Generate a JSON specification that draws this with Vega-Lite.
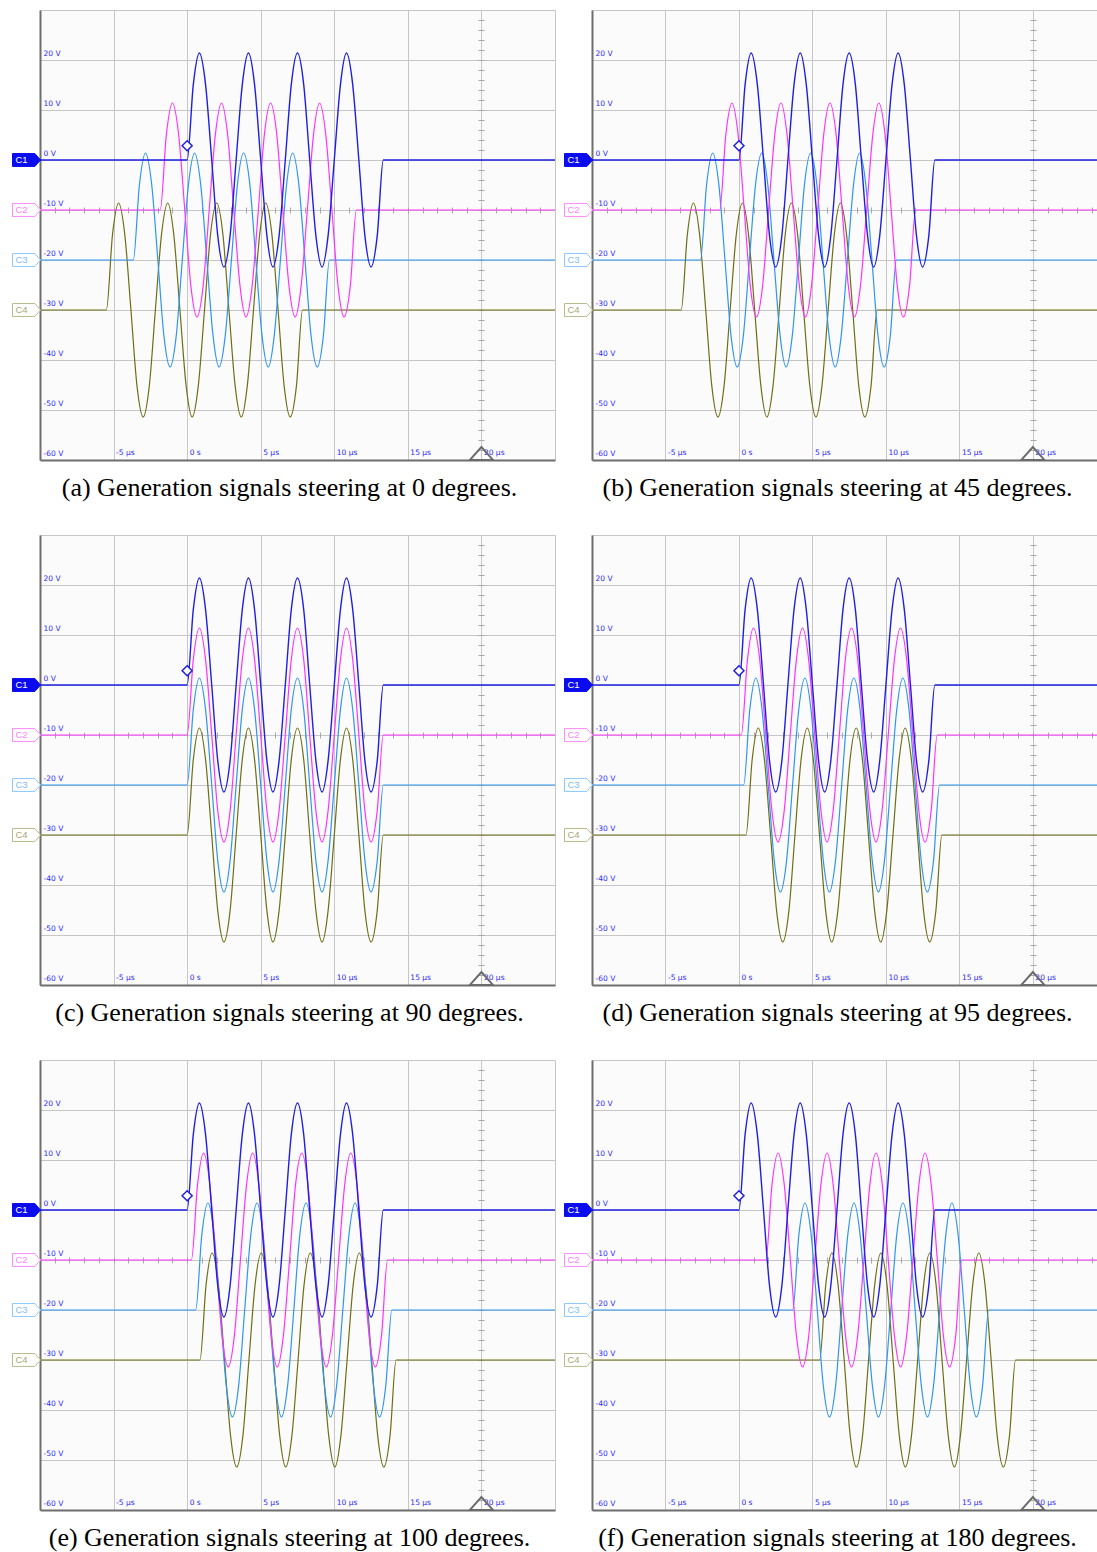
{
"$schema": "https://vega.github.io/schema/vega-lite/v6.json",
"padding": {"left": 10, "top": 9, "right": 0, "bottom": 0},
"background": "white",
"config": {
 "view": {"stroke": "#c6c6c6", "strokeWidth": 1, "fill": "#fbfbfb"},
 "axis": {"domainColor": "#6e6e6e", "domainWidth": 2, "gridColor": "#c6c6c6", "gridWidth": 1, "grid": true, "ticks": false, "tickSize": 0, "labelFont": "DejaVu Sans", "labelFontSize": 7.5, "labelColor": "#2a2aff", "labelFlush": false, "labelOverlap": false, "labelBound": false},
 "axisX": {"labelAlign": "left", "labelBaseline": "bottom", "labelPadding": -4, "labelOffset": 2, "labelExpr": "datum.value == 0 ? '0 s' : datum.value + ' µs'"},
 "axisY": {"labelAlign": "left", "labelBaseline": "bottom", "labelPadding": -3, "labelOffset": -3, "labelExpr": "datum.value + ' V'"},
 "title": {"font": "Liberation Serif", "fontSize": 26, "fontWeight": "normal", "color": "#000000", "orient": "bottom", "anchor": "middle", "offset": 11, "dx": -8}
},
"datasets": {
 "one": [{"k": 1}],
 "ch": [{"c": "C1", "v": 0}, {"c": "C2", "v": -10}, {"c": "C3", "v": -20}, {"c": "C4", "v": -30}],
 "c1": [{"t":-10,"v":0},{"t":0,"v":0},{"t":0.42,"v":15.13},{"t":0.83,"v":21.4},{"t":1.25,"v":15.13},{"t":1.67,"v":0},{"t":2.08,"v":-15.13},{"t":2.5,"v":-21.4},{"t":2.92,"v":-15.13},{"t":3.33,"v":0},{"t":3.75,"v":15.13},{"t":4.17,"v":21.4},{"t":4.58,"v":15.13},{"t":5,"v":0},{"t":5.42,"v":-15.13},{"t":5.83,"v":-21.4},{"t":6.25,"v":-15.13},{"t":6.67,"v":0},{"t":7.08,"v":15.13},{"t":7.5,"v":21.4},{"t":7.92,"v":15.13},{"t":8.33,"v":0},{"t":8.75,"v":-15.13},{"t":9.17,"v":-21.4},{"t":9.58,"v":-15.13},{"t":10,"v":0},{"t":10.42,"v":15.13},{"t":10.83,"v":21.4},{"t":11.25,"v":15.13},{"t":11.67,"v":0},{"t":12.08,"v":-15.13},{"t":12.5,"v":-21.4},{"t":12.92,"v":-15.13},{"t":13.33,"v":0},{"t":25,"v":0}],
 "c2z": [{"t":-10,"v":-10},{"t":0,"v":-10},{"t":0.42,"v":5.13},{"t":0.83,"v":11.4},{"t":1.25,"v":5.13},{"t":1.67,"v":-10},{"t":2.08,"v":-25.13},{"t":2.5,"v":-31.4},{"t":2.92,"v":-25.13},{"t":3.33,"v":-10},{"t":3.75,"v":5.13},{"t":4.17,"v":11.4},{"t":4.58,"v":5.13},{"t":5,"v":-10},{"t":5.42,"v":-25.13},{"t":5.83,"v":-31.4},{"t":6.25,"v":-25.13},{"t":6.67,"v":-10},{"t":7.08,"v":5.13},{"t":7.5,"v":11.4},{"t":7.92,"v":5.13},{"t":8.33,"v":-10},{"t":8.75,"v":-25.13},{"t":9.17,"v":-31.4},{"t":9.58,"v":-25.13},{"t":10,"v":-10},{"t":10.42,"v":5.13},{"t":10.83,"v":11.4},{"t":11.25,"v":5.13},{"t":11.67,"v":-10},{"t":12.08,"v":-25.13},{"t":12.5,"v":-31.4},{"t":12.92,"v":-25.13},{"t":13.33,"v":-10},{"t":25,"v":-10}],
 "c3z": [{"t":-10,"v":-20},{"t":0,"v":-20},{"t":0.42,"v":-4.87},{"t":0.83,"v":1.4},{"t":1.25,"v":-4.87},{"t":1.67,"v":-20},{"t":2.08,"v":-35.13},{"t":2.5,"v":-41.4},{"t":2.92,"v":-35.13},{"t":3.33,"v":-20},{"t":3.75,"v":-4.87},{"t":4.17,"v":1.4},{"t":4.58,"v":-4.87},{"t":5,"v":-20},{"t":5.42,"v":-35.13},{"t":5.83,"v":-41.4},{"t":6.25,"v":-35.13},{"t":6.67,"v":-20},{"t":7.08,"v":-4.87},{"t":7.5,"v":1.4},{"t":7.92,"v":-4.87},{"t":8.33,"v":-20},{"t":8.75,"v":-35.13},{"t":9.17,"v":-41.4},{"t":9.58,"v":-35.13},{"t":10,"v":-20},{"t":10.42,"v":-4.87},{"t":10.83,"v":1.4},{"t":11.25,"v":-4.87},{"t":11.67,"v":-20},{"t":12.08,"v":-35.13},{"t":12.5,"v":-41.4},{"t":12.92,"v":-35.13},{"t":13.33,"v":-20},{"t":25,"v":-20}],
 "c4z": [{"t":-10,"v":-30},{"t":0,"v":-30},{"t":0.42,"v":-14.87},{"t":0.83,"v":-8.6},{"t":1.25,"v":-14.87},{"t":1.67,"v":-30},{"t":2.08,"v":-45.13},{"t":2.5,"v":-51.4},{"t":2.92,"v":-45.13},{"t":3.33,"v":-30},{"t":3.75,"v":-14.87},{"t":4.17,"v":-8.6},{"t":4.58,"v":-14.87},{"t":5,"v":-30},{"t":5.42,"v":-45.13},{"t":5.83,"v":-51.4},{"t":6.25,"v":-45.13},{"t":6.67,"v":-30},{"t":7.08,"v":-14.87},{"t":7.5,"v":-8.6},{"t":7.92,"v":-14.87},{"t":8.33,"v":-30},{"t":8.75,"v":-45.13},{"t":9.17,"v":-51.4},{"t":9.58,"v":-45.13},{"t":10,"v":-30},{"t":10.42,"v":-14.87},{"t":10.83,"v":-8.6},{"t":11.25,"v":-14.87},{"t":11.67,"v":-30},{"t":12.08,"v":-45.13},{"t":12.5,"v":-51.4},{"t":12.92,"v":-45.13},{"t":13.33,"v":-30},{"t":25,"v":-30}],
 "a2": [{"t":-10,"v":-10},{"t":-1.83,"v":-10},{"t":-1.41,"v":5.13},{"t":-1,"v":11.4},{"t":-0.58,"v":5.13},{"t":-0.16,"v":-10},{"t":0.25,"v":-25.13},{"t":0.67,"v":-31.4},{"t":1.09,"v":-25.13},{"t":1.5,"v":-10},{"t":1.92,"v":5.13},{"t":2.34,"v":11.4},{"t":2.75,"v":5.13},{"t":3.17,"v":-10},{"t":3.59,"v":-25.13},{"t":4,"v":-31.4},{"t":4.42,"v":-25.13},{"t":4.84,"v":-10},{"t":5.25,"v":5.13},{"t":5.67,"v":11.4},{"t":6.09,"v":5.13},{"t":6.5,"v":-10},{"t":6.92,"v":-25.13},{"t":7.34,"v":-31.4},{"t":7.75,"v":-25.13},{"t":8.17,"v":-10},{"t":8.59,"v":5.13},{"t":9,"v":11.4},{"t":9.42,"v":5.13},{"t":9.84,"v":-10},{"t":10.25,"v":-25.13},{"t":10.67,"v":-31.4},{"t":11.09,"v":-25.13},{"t":11.5,"v":-10},{"t":25,"v":-10}],
 "a3": [{"t":-10,"v":-20},{"t":-3.66,"v":-20},{"t":-3.24,"v":-4.87},{"t":-2.83,"v":1.4},{"t":-2.41,"v":-4.87},{"t":-1.99,"v":-20},{"t":-1.58,"v":-35.13},{"t":-1.16,"v":-41.4},{"t":-0.74,"v":-35.13},{"t":-0.33,"v":-20},{"t":0.09,"v":-4.87},{"t":0.51,"v":1.4},{"t":0.92,"v":-4.87},{"t":1.34,"v":-20},{"t":1.76,"v":-35.13},{"t":2.17,"v":-41.4},{"t":2.59,"v":-35.13},{"t":3.01,"v":-20},{"t":3.42,"v":-4.87},{"t":3.84,"v":1.4},{"t":4.26,"v":-4.87},{"t":4.67,"v":-20},{"t":5.09,"v":-35.13},{"t":5.51,"v":-41.4},{"t":5.92,"v":-35.13},{"t":6.34,"v":-20},{"t":6.76,"v":-4.87},{"t":7.17,"v":1.4},{"t":7.59,"v":-4.87},{"t":8.01,"v":-20},{"t":8.42,"v":-35.13},{"t":8.84,"v":-41.4},{"t":9.26,"v":-35.13},{"t":9.67,"v":-20},{"t":25,"v":-20}],
 "a4": [{"t":-10,"v":-30},{"t":-5.49,"v":-30},{"t":-5.07,"v":-14.87},{"t":-4.66,"v":-8.6},{"t":-4.24,"v":-14.87},{"t":-3.82,"v":-30},{"t":-3.41,"v":-45.13},{"t":-2.99,"v":-51.4},{"t":-2.57,"v":-45.13},{"t":-2.16,"v":-30},{"t":-1.74,"v":-14.87},{"t":-1.32,"v":-8.6},{"t":-0.91,"v":-14.87},{"t":-0.49,"v":-30},{"t":-0.07,"v":-45.13},{"t":0.34,"v":-51.4},{"t":0.76,"v":-45.13},{"t":1.18,"v":-30},{"t":1.59,"v":-14.87},{"t":2.01,"v":-8.6},{"t":2.43,"v":-14.87},{"t":2.84,"v":-30},{"t":3.26,"v":-45.13},{"t":3.68,"v":-51.4},{"t":4.09,"v":-45.13},{"t":4.51,"v":-30},{"t":4.93,"v":-14.87},{"t":5.34,"v":-8.6},{"t":5.76,"v":-14.87},{"t":6.18,"v":-30},{"t":6.59,"v":-45.13},{"t":7.01,"v":-51.4},{"t":7.43,"v":-45.13},{"t":7.84,"v":-30},{"t":25,"v":-30}],
 "b2": [{"t":-10,"v":-10},{"t":-1.31,"v":-10},{"t":-0.89,"v":5.13},{"t":-0.48,"v":11.4},{"t":-0.06,"v":5.13},{"t":0.36,"v":-10},{"t":0.77,"v":-25.13},{"t":1.19,"v":-31.4},{"t":1.61,"v":-25.13},{"t":2.02,"v":-10},{"t":2.44,"v":5.13},{"t":2.86,"v":11.4},{"t":3.27,"v":5.13},{"t":3.69,"v":-10},{"t":4.11,"v":-25.13},{"t":4.52,"v":-31.4},{"t":4.94,"v":-25.13},{"t":5.36,"v":-10},{"t":5.77,"v":5.13},{"t":6.19,"v":11.4},{"t":6.61,"v":5.13},{"t":7.02,"v":-10},{"t":7.44,"v":-25.13},{"t":7.86,"v":-31.4},{"t":8.27,"v":-25.13},{"t":8.69,"v":-10},{"t":9.11,"v":5.13},{"t":9.52,"v":11.4},{"t":9.94,"v":5.13},{"t":10.36,"v":-10},{"t":10.77,"v":-25.13},{"t":11.19,"v":-31.4},{"t":11.61,"v":-25.13},{"t":12.02,"v":-10},{"t":25,"v":-10}],
 "b3": [{"t":-10,"v":-20},{"t":-2.62,"v":-20},{"t":-2.2,"v":-4.87},{"t":-1.79,"v":1.4},{"t":-1.37,"v":-4.87},{"t":-0.95,"v":-20},{"t":-0.54,"v":-35.13},{"t":-0.12,"v":-41.4},{"t":0.3,"v":-35.13},{"t":0.71,"v":-20},{"t":1.13,"v":-4.87},{"t":1.55,"v":1.4},{"t":1.96,"v":-4.87},{"t":2.38,"v":-20},{"t":2.8,"v":-35.13},{"t":3.21,"v":-41.4},{"t":3.63,"v":-35.13},{"t":4.05,"v":-20},{"t":4.46,"v":-4.87},{"t":4.88,"v":1.4},{"t":5.3,"v":-4.87},{"t":5.71,"v":-20},{"t":6.13,"v":-35.13},{"t":6.55,"v":-41.4},{"t":6.96,"v":-35.13},{"t":7.38,"v":-20},{"t":7.8,"v":-4.87},{"t":8.21,"v":1.4},{"t":8.63,"v":-4.87},{"t":9.05,"v":-20},{"t":9.46,"v":-35.13},{"t":9.88,"v":-41.4},{"t":10.3,"v":-35.13},{"t":10.71,"v":-20},{"t":25,"v":-20}],
 "b4": [{"t":-10,"v":-30},{"t":-3.93,"v":-30},{"t":-3.51,"v":-14.87},{"t":-3.1,"v":-8.6},{"t":-2.68,"v":-14.87},{"t":-2.26,"v":-30},{"t":-1.85,"v":-45.13},{"t":-1.43,"v":-51.4},{"t":-1.01,"v":-45.13},{"t":-0.6,"v":-30},{"t":-0.18,"v":-14.87},{"t":0.24,"v":-8.6},{"t":0.65,"v":-14.87},{"t":1.07,"v":-30},{"t":1.49,"v":-45.13},{"t":1.9,"v":-51.4},{"t":2.32,"v":-45.13},{"t":2.74,"v":-30},{"t":3.15,"v":-14.87},{"t":3.57,"v":-8.6},{"t":3.99,"v":-14.87},{"t":4.4,"v":-30},{"t":4.82,"v":-45.13},{"t":5.24,"v":-51.4},{"t":5.65,"v":-45.13},{"t":6.07,"v":-30},{"t":6.49,"v":-14.87},{"t":6.9,"v":-8.6},{"t":7.32,"v":-14.87},{"t":7.74,"v":-30},{"t":8.15,"v":-45.13},{"t":8.57,"v":-51.4},{"t":8.99,"v":-45.13},{"t":9.4,"v":-30},{"t":25,"v":-30}],
 "d2": [{"t":-10,"v":-10},{"t":0.16,"v":-10},{"t":0.58,"v":5.13},{"t":0.99,"v":11.4},{"t":1.41,"v":5.13},{"t":1.83,"v":-10},{"t":2.24,"v":-25.13},{"t":2.66,"v":-31.4},{"t":3.08,"v":-25.13},{"t":3.49,"v":-10},{"t":3.91,"v":5.13},{"t":4.33,"v":11.4},{"t":4.74,"v":5.13},{"t":5.16,"v":-10},{"t":5.58,"v":-25.13},{"t":5.99,"v":-31.4},{"t":6.41,"v":-25.13},{"t":6.83,"v":-10},{"t":7.24,"v":5.13},{"t":7.66,"v":11.4},{"t":8.08,"v":5.13},{"t":8.49,"v":-10},{"t":8.91,"v":-25.13},{"t":9.33,"v":-31.4},{"t":9.74,"v":-25.13},{"t":10.16,"v":-10},{"t":10.58,"v":5.13},{"t":10.99,"v":11.4},{"t":11.41,"v":5.13},{"t":11.83,"v":-10},{"t":12.24,"v":-25.13},{"t":12.66,"v":-31.4},{"t":13.08,"v":-25.13},{"t":13.49,"v":-10},{"t":25,"v":-10}],
 "d3": [{"t":-10,"v":-20},{"t":0.32,"v":-20},{"t":0.74,"v":-4.87},{"t":1.15,"v":1.4},{"t":1.57,"v":-4.87},{"t":1.99,"v":-20},{"t":2.4,"v":-35.13},{"t":2.82,"v":-41.4},{"t":3.24,"v":-35.13},{"t":3.65,"v":-20},{"t":4.07,"v":-4.87},{"t":4.49,"v":1.4},{"t":4.9,"v":-4.87},{"t":5.32,"v":-20},{"t":5.74,"v":-35.13},{"t":6.15,"v":-41.4},{"t":6.57,"v":-35.13},{"t":6.99,"v":-20},{"t":7.4,"v":-4.87},{"t":7.82,"v":1.4},{"t":8.24,"v":-4.87},{"t":8.65,"v":-20},{"t":9.07,"v":-35.13},{"t":9.49,"v":-41.4},{"t":9.9,"v":-35.13},{"t":10.32,"v":-20},{"t":10.74,"v":-4.87},{"t":11.15,"v":1.4},{"t":11.57,"v":-4.87},{"t":11.99,"v":-20},{"t":12.4,"v":-35.13},{"t":12.82,"v":-41.4},{"t":13.24,"v":-35.13},{"t":13.65,"v":-20},{"t":25,"v":-20}],
 "d4": [{"t":-10,"v":-30},{"t":0.48,"v":-30},{"t":0.9,"v":-14.87},{"t":1.31,"v":-8.6},{"t":1.73,"v":-14.87},{"t":2.15,"v":-30},{"t":2.56,"v":-45.13},{"t":2.98,"v":-51.4},{"t":3.4,"v":-45.13},{"t":3.81,"v":-30},{"t":4.23,"v":-14.87},{"t":4.65,"v":-8.6},{"t":5.06,"v":-14.87},{"t":5.48,"v":-30},{"t":5.9,"v":-45.13},{"t":6.31,"v":-51.4},{"t":6.73,"v":-45.13},{"t":7.15,"v":-30},{"t":7.56,"v":-14.87},{"t":7.98,"v":-8.6},{"t":8.4,"v":-14.87},{"t":8.81,"v":-30},{"t":9.23,"v":-45.13},{"t":9.65,"v":-51.4},{"t":10.06,"v":-45.13},{"t":10.48,"v":-30},{"t":10.9,"v":-14.87},{"t":11.31,"v":-8.6},{"t":11.73,"v":-14.87},{"t":12.15,"v":-30},{"t":12.56,"v":-45.13},{"t":12.98,"v":-51.4},{"t":13.4,"v":-45.13},{"t":13.81,"v":-30},{"t":25,"v":-30}],
 "e2": [{"t":-10,"v":-10},{"t":0.29,"v":-10},{"t":0.71,"v":5.13},{"t":1.12,"v":11.4},{"t":1.54,"v":5.13},{"t":1.96,"v":-10},{"t":2.37,"v":-25.13},{"t":2.79,"v":-31.4},{"t":3.21,"v":-25.13},{"t":3.62,"v":-10},{"t":4.04,"v":5.13},{"t":4.46,"v":11.4},{"t":4.87,"v":5.13},{"t":5.29,"v":-10},{"t":5.71,"v":-25.13},{"t":6.12,"v":-31.4},{"t":6.54,"v":-25.13},{"t":6.96,"v":-10},{"t":7.37,"v":5.13},{"t":7.79,"v":11.4},{"t":8.21,"v":5.13},{"t":8.62,"v":-10},{"t":9.04,"v":-25.13},{"t":9.46,"v":-31.4},{"t":9.87,"v":-25.13},{"t":10.29,"v":-10},{"t":10.71,"v":5.13},{"t":11.12,"v":11.4},{"t":11.54,"v":5.13},{"t":11.96,"v":-10},{"t":12.37,"v":-25.13},{"t":12.79,"v":-31.4},{"t":13.21,"v":-25.13},{"t":13.62,"v":-10},{"t":25,"v":-10}],
 "e3": [{"t":-10,"v":-20},{"t":0.58,"v":-20},{"t":1,"v":-4.87},{"t":1.41,"v":1.4},{"t":1.83,"v":-4.87},{"t":2.25,"v":-20},{"t":2.66,"v":-35.13},{"t":3.08,"v":-41.4},{"t":3.5,"v":-35.13},{"t":3.91,"v":-20},{"t":4.33,"v":-4.87},{"t":4.75,"v":1.4},{"t":5.16,"v":-4.87},{"t":5.58,"v":-20},{"t":6,"v":-35.13},{"t":6.41,"v":-41.4},{"t":6.83,"v":-35.13},{"t":7.25,"v":-20},{"t":7.66,"v":-4.87},{"t":8.08,"v":1.4},{"t":8.5,"v":-4.87},{"t":8.91,"v":-20},{"t":9.33,"v":-35.13},{"t":9.75,"v":-41.4},{"t":10.16,"v":-35.13},{"t":10.58,"v":-20},{"t":11,"v":-4.87},{"t":11.41,"v":1.4},{"t":11.83,"v":-4.87},{"t":12.25,"v":-20},{"t":12.66,"v":-35.13},{"t":13.08,"v":-41.4},{"t":13.5,"v":-35.13},{"t":13.91,"v":-20},{"t":25,"v":-20}],
 "e4": [{"t":-10,"v":-30},{"t":0.87,"v":-30},{"t":1.29,"v":-14.87},{"t":1.7,"v":-8.6},{"t":2.12,"v":-14.87},{"t":2.54,"v":-30},{"t":2.95,"v":-45.13},{"t":3.37,"v":-51.4},{"t":3.79,"v":-45.13},{"t":4.2,"v":-30},{"t":4.62,"v":-14.87},{"t":5.04,"v":-8.6},{"t":5.45,"v":-14.87},{"t":5.87,"v":-30},{"t":6.29,"v":-45.13},{"t":6.7,"v":-51.4},{"t":7.12,"v":-45.13},{"t":7.54,"v":-30},{"t":7.95,"v":-14.87},{"t":8.37,"v":-8.6},{"t":8.79,"v":-14.87},{"t":9.2,"v":-30},{"t":9.62,"v":-45.13},{"t":10.04,"v":-51.4},{"t":10.45,"v":-45.13},{"t":10.87,"v":-30},{"t":11.29,"v":-14.87},{"t":11.7,"v":-8.6},{"t":12.12,"v":-14.87},{"t":12.54,"v":-30},{"t":12.95,"v":-45.13},{"t":13.37,"v":-51.4},{"t":13.79,"v":-45.13},{"t":14.2,"v":-30},{"t":25,"v":-30}],
 "f2": [{"t":-10,"v":-10},{"t":1.83,"v":-10},{"t":2.25,"v":5.13},{"t":2.66,"v":11.4},{"t":3.08,"v":5.13},{"t":3.5,"v":-10},{"t":3.91,"v":-25.13},{"t":4.33,"v":-31.4},{"t":4.75,"v":-25.13},{"t":5.16,"v":-10},{"t":5.58,"v":5.13},{"t":6,"v":11.4},{"t":6.41,"v":5.13},{"t":6.83,"v":-10},{"t":7.25,"v":-25.13},{"t":7.66,"v":-31.4},{"t":8.08,"v":-25.13},{"t":8.5,"v":-10},{"t":8.91,"v":5.13},{"t":9.33,"v":11.4},{"t":9.75,"v":5.13},{"t":10.16,"v":-10},{"t":10.58,"v":-25.13},{"t":11,"v":-31.4},{"t":11.41,"v":-25.13},{"t":11.83,"v":-10},{"t":12.25,"v":5.13},{"t":12.66,"v":11.4},{"t":13.08,"v":5.13},{"t":13.5,"v":-10},{"t":13.91,"v":-25.13},{"t":14.33,"v":-31.4},{"t":14.75,"v":-25.13},{"t":15.16,"v":-10},{"t":25,"v":-10}],
 "f3": [{"t":-10,"v":-20},{"t":3.66,"v":-20},{"t":4.08,"v":-4.87},{"t":4.49,"v":1.4},{"t":4.91,"v":-4.87},{"t":5.33,"v":-20},{"t":5.74,"v":-35.13},{"t":6.16,"v":-41.4},{"t":6.58,"v":-35.13},{"t":6.99,"v":-20},{"t":7.41,"v":-4.87},{"t":7.83,"v":1.4},{"t":8.24,"v":-4.87},{"t":8.66,"v":-20},{"t":9.08,"v":-35.13},{"t":9.49,"v":-41.4},{"t":9.91,"v":-35.13},{"t":10.33,"v":-20},{"t":10.74,"v":-4.87},{"t":11.16,"v":1.4},{"t":11.58,"v":-4.87},{"t":11.99,"v":-20},{"t":12.41,"v":-35.13},{"t":12.83,"v":-41.4},{"t":13.24,"v":-35.13},{"t":13.66,"v":-20},{"t":14.08,"v":-4.87},{"t":14.49,"v":1.4},{"t":14.91,"v":-4.87},{"t":15.33,"v":-20},{"t":15.74,"v":-35.13},{"t":16.16,"v":-41.4},{"t":16.58,"v":-35.13},{"t":16.99,"v":-20},{"t":25,"v":-20}],
 "f4": [{"t":-10,"v":-30},{"t":5.49,"v":-30},{"t":5.91,"v":-14.87},{"t":6.32,"v":-8.6},{"t":6.74,"v":-14.87},{"t":7.16,"v":-30},{"t":7.57,"v":-45.13},{"t":7.99,"v":-51.4},{"t":8.41,"v":-45.13},{"t":8.82,"v":-30},{"t":9.24,"v":-14.87},{"t":9.66,"v":-8.6},{"t":10.07,"v":-14.87},{"t":10.49,"v":-30},{"t":10.91,"v":-45.13},{"t":11.32,"v":-51.4},{"t":11.74,"v":-45.13},{"t":12.16,"v":-30},{"t":12.57,"v":-14.87},{"t":12.99,"v":-8.6},{"t":13.41,"v":-14.87},{"t":13.82,"v":-30},{"t":14.24,"v":-45.13},{"t":14.66,"v":-51.4},{"t":15.07,"v":-45.13},{"t":15.49,"v":-30},{"t":15.91,"v":-14.87},{"t":16.32,"v":-8.6},{"t":16.74,"v":-14.87},{"t":17.16,"v":-30},{"t":17.57,"v":-45.13},{"t":17.99,"v":-51.4},{"t":18.41,"v":-45.13},{"t":18.82,"v":-30},{"t":25,"v":-30}]
},
"columns": 2,
"spacing": {"row": 75, "column": 37},
"bounds": "flush",
"concat": [
 {"width": 515, "height": 450, "title": "(a) Generation signals steering at 0 degrees.", "resolve": {"axis": {"x": "independent", "y": "independent"}},
  "layer": [
   {"data": {"name": "a4"}, "mark": {"type": "line", "color": "#6e6e14", "strokeWidth": 1.2, "interpolate": "monotone", "clip": true}, "encoding": {"x": {"field": "t", "type": "quantitative", "scale": {"domain": [-10, 25], "nice": false, "zero": false}, "axis": {"title": null, "values": [-5, 0, 5, 10, 15, 20]}}, "y": {"field": "v", "type": "quantitative", "scale": {"domain": [-60, 30], "nice": false, "zero": false}, "axis": {"title": null, "values": [-60, -50, -40, -30, -20, -10, 0, 10, 20]}}}},
   {"data": {"name": "a3"}, "mark": {"type": "line", "color": "#2f95f0", "strokeWidth": 1.2, "interpolate": "monotone", "clip": true}, "encoding": {"x": {"field": "t", "type": "quantitative", "axis": {"title": null, "orient": "bottom", "offset": -253, "domain": false, "labels": false, "grid": false, "ticks": true, "tickSize": 6, "tickColor": "#a8a8a8", "values": [-9,-8,-7,-6,-5,-4,-3,-2,-1,0,1,2,3,4,5,6,7,8,9,10,11,12,13,14,15,16,17,18,19,20,21,22,23,24]}}, "y": {"field": "v", "type": "quantitative", "axis": {"title": null, "orient": "left", "offset": -444, "domain": false, "labels": false, "grid": false, "ticks": true, "tickSize": 6, "tickColor": "#a8a8a8", "values": [-58,-56,-54,-52,-50,-48,-46,-44,-42,-40,-38,-36,-34,-32,-30,-28,-26,-24,-22,-20,-18,-16,-14,-12,-10,-8,-6,-4,-2,0,2,4,6,8,10,12,14,16,18,20,22,24,26,28]}}}},
   {"data": {"name": "a2"}, "mark": {"type": "line", "color": "#ff33ff", "strokeWidth": 1.2, "interpolate": "monotone", "clip": true}, "encoding": {"x": {"field": "t", "type": "quantitative", "axis": null}, "y": {"field": "v", "type": "quantitative", "axis": null}}},
   {"data": {"name": "c1"}, "mark": {"type": "line", "color": "#1f1fe0", "strokeWidth": 1.4, "interpolate": "monotone", "clip": true}, "encoding": {"x": {"field": "t", "type": "quantitative", "axis": null}, "y": {"field": "v", "type": "quantitative", "axis": null}}},
   {"data": {"name": "one"}, "mark": {"type": "point", "shape": "diamond", "size": 100, "filled": true, "fill": "white", "stroke": "#1f1fe0", "strokeWidth": 1.5, "opacity": 1}, "encoding": {"x": {"datum": 0, "axis": null}, "y": {"datum": 2.86, "axis": null}}},
   {"data": {"name": "one"}, "mark": {"type": "point", "shape": "M-1,0.56L0,-0.56L1,0.56Z", "size": 529, "filled": false, "stroke": "#6b6b6b", "strokeWidth": 2, "opacity": 1, "yOffset": -6.5}, "encoding": {"x": {"datum": 20, "axis": null}, "y": {"datum": -60, "axis": null}}},
   {"data": {"name": "ch"}, "mark": {"type": "point", "shape": "M-1,-0.46L0.6,-0.46L1,0L0.6,0.46L-1,0.46Z", "size": 784, "filled": true, "opacity": 1, "strokeWidth": 1, "xOffset": -13.5}, "encoding": {"x": {"datum": -10, "axis": null}, "y": {"field": "v", "type": "quantitative", "axis": null}, "fill": {"field": "c", "type": "nominal", "scale": {"domain": ["C1", "C2", "C3", "C4"], "range": ["#0b0bef", "#ffffff", "#ffffff", "#ffffff"]}, "legend": null}, "stroke": {"field": "c", "type": "nominal", "scale": {"domain": ["C1", "C2", "C3", "C4"], "range": ["#0b0bef", "#ff8cff", "#8cc8ff", "#b9b98c"]}, "legend": null}}},
   {"data": {"name": "ch"}, "mark": {"type": "text", "font": "Liberation Sans", "fontSize": 9.5, "xOffset": -18.5, "align": "center", "baseline": "middle"}, "encoding": {"x": {"datum": -10, "axis": null}, "y": {"field": "v", "type": "quantitative", "axis": null}, "text": {"field": "c"}, "color": {"field": "c", "type": "nominal", "scale": {"domain": ["C1", "C2", "C3", "C4"], "range": ["#ffffff", "#ff80ff", "#80bcf5", "#a6a676"]}, "legend": null}}}
  ]},
 {"width": 507, "height": 450, "title": "(b) Generation signals steering at 45 degrees.", "resolve": {"axis": {"x": "independent", "y": "independent"}},
  "layer": [
   {"data": {"name": "b4"}, "mark": {"type": "line", "color": "#6e6e14", "strokeWidth": 1.2, "interpolate": "monotone", "clip": true}, "encoding": {"x": {"field": "t", "type": "quantitative", "scale": {"domain": [-10, 24.5], "nice": false, "zero": false}, "axis": {"title": null, "values": [-5, 0, 5, 10, 15, 20]}}, "y": {"field": "v", "type": "quantitative", "scale": {"domain": [-60, 30], "nice": false, "zero": false}, "axis": {"title": null, "values": [-60, -50, -40, -30, -20, -10, 0, 10, 20]}}}},
   {"data": {"name": "b3"}, "mark": {"type": "line", "color": "#2f95f0", "strokeWidth": 1.2, "interpolate": "monotone", "clip": true}, "encoding": {"x": {"field": "t", "type": "quantitative", "axis": {"title": null, "orient": "bottom", "offset": -253, "domain": false, "labels": false, "grid": false, "ticks": true, "tickSize": 6, "tickColor": "#a8a8a8", "values": [-9,-8,-7,-6,-5,-4,-3,-2,-1,0,1,2,3,4,5,6,7,8,9,10,11,12,13,14,15,16,17,18,19,20,21,22,23,24]}}, "y": {"field": "v", "type": "quantitative", "axis": {"title": null, "orient": "left", "offset": -444, "domain": false, "labels": false, "grid": false, "ticks": true, "tickSize": 6, "tickColor": "#a8a8a8", "values": [-58,-56,-54,-52,-50,-48,-46,-44,-42,-40,-38,-36,-34,-32,-30,-28,-26,-24,-22,-20,-18,-16,-14,-12,-10,-8,-6,-4,-2,0,2,4,6,8,10,12,14,16,18,20,22,24,26,28]}}}},
   {"data": {"name": "b2"}, "mark": {"type": "line", "color": "#ff33ff", "strokeWidth": 1.2, "interpolate": "monotone", "clip": true}, "encoding": {"x": {"field": "t", "type": "quantitative", "axis": null}, "y": {"field": "v", "type": "quantitative", "axis": null}}},
   {"data": {"name": "c1"}, "mark": {"type": "line", "color": "#1f1fe0", "strokeWidth": 1.4, "interpolate": "monotone", "clip": true}, "encoding": {"x": {"field": "t", "type": "quantitative", "axis": null}, "y": {"field": "v", "type": "quantitative", "axis": null}}},
   {"data": {"name": "one"}, "mark": {"type": "point", "shape": "diamond", "size": 100, "filled": true, "fill": "white", "stroke": "#1f1fe0", "strokeWidth": 1.5, "opacity": 1}, "encoding": {"x": {"datum": 0, "axis": null}, "y": {"datum": 2.86, "axis": null}}},
   {"data": {"name": "one"}, "mark": {"type": "point", "shape": "M-1,0.56L0,-0.56L1,0.56Z", "size": 529, "filled": false, "stroke": "#6b6b6b", "strokeWidth": 2, "opacity": 1, "yOffset": -6.5}, "encoding": {"x": {"datum": 20, "axis": null}, "y": {"datum": -60, "axis": null}}},
   {"data": {"name": "ch"}, "mark": {"type": "point", "shape": "M-1,-0.46L0.6,-0.46L1,0L0.6,0.46L-1,0.46Z", "size": 784, "filled": true, "opacity": 1, "strokeWidth": 1, "xOffset": -13.5}, "encoding": {"x": {"datum": -10, "axis": null}, "y": {"field": "v", "type": "quantitative", "axis": null}, "fill": {"field": "c", "type": "nominal", "scale": {"domain": ["C1", "C2", "C3", "C4"], "range": ["#0b0bef", "#ffffff", "#ffffff", "#ffffff"]}, "legend": null}, "stroke": {"field": "c", "type": "nominal", "scale": {"domain": ["C1", "C2", "C3", "C4"], "range": ["#0b0bef", "#ff8cff", "#8cc8ff", "#b9b98c"]}, "legend": null}}},
   {"data": {"name": "ch"}, "mark": {"type": "text", "font": "Liberation Sans", "fontSize": 9.5, "xOffset": -18.5, "align": "center", "baseline": "middle"}, "encoding": {"x": {"datum": -10, "axis": null}, "y": {"field": "v", "type": "quantitative", "axis": null}, "text": {"field": "c"}, "color": {"field": "c", "type": "nominal", "scale": {"domain": ["C1", "C2", "C3", "C4"], "range": ["#ffffff", "#ff80ff", "#80bcf5", "#a6a676"]}, "legend": null}}}
  ]},
 {"width": 515, "height": 450, "title": "(c) Generation signals steering at 90 degrees.", "resolve": {"axis": {"x": "independent", "y": "independent"}},
  "layer": [
   {"data": {"name": "c4z"}, "mark": {"type": "line", "color": "#6e6e14", "strokeWidth": 1.2, "interpolate": "monotone", "clip": true}, "encoding": {"x": {"field": "t", "type": "quantitative", "scale": {"domain": [-10, 25], "nice": false, "zero": false}, "axis": {"title": null, "values": [-5, 0, 5, 10, 15, 20]}}, "y": {"field": "v", "type": "quantitative", "scale": {"domain": [-60, 30], "nice": false, "zero": false}, "axis": {"title": null, "values": [-60, -50, -40, -30, -20, -10, 0, 10, 20]}}}},
   {"data": {"name": "c3z"}, "mark": {"type": "line", "color": "#2f95f0", "strokeWidth": 1.2, "interpolate": "monotone", "clip": true}, "encoding": {"x": {"field": "t", "type": "quantitative", "axis": {"title": null, "orient": "bottom", "offset": -253, "domain": false, "labels": false, "grid": false, "ticks": true, "tickSize": 6, "tickColor": "#a8a8a8", "values": [-9,-8,-7,-6,-5,-4,-3,-2,-1,0,1,2,3,4,5,6,7,8,9,10,11,12,13,14,15,16,17,18,19,20,21,22,23,24]}}, "y": {"field": "v", "type": "quantitative", "axis": {"title": null, "orient": "left", "offset": -444, "domain": false, "labels": false, "grid": false, "ticks": true, "tickSize": 6, "tickColor": "#a8a8a8", "values": [-58,-56,-54,-52,-50,-48,-46,-44,-42,-40,-38,-36,-34,-32,-30,-28,-26,-24,-22,-20,-18,-16,-14,-12,-10,-8,-6,-4,-2,0,2,4,6,8,10,12,14,16,18,20,22,24,26,28]}}}},
   {"data": {"name": "c2z"}, "mark": {"type": "line", "color": "#ff33ff", "strokeWidth": 1.2, "interpolate": "monotone", "clip": true}, "encoding": {"x": {"field": "t", "type": "quantitative", "axis": null}, "y": {"field": "v", "type": "quantitative", "axis": null}}},
   {"data": {"name": "c1"}, "mark": {"type": "line", "color": "#1f1fe0", "strokeWidth": 1.4, "interpolate": "monotone", "clip": true}, "encoding": {"x": {"field": "t", "type": "quantitative", "axis": null}, "y": {"field": "v", "type": "quantitative", "axis": null}}},
   {"data": {"name": "one"}, "mark": {"type": "point", "shape": "diamond", "size": 100, "filled": true, "fill": "white", "stroke": "#1f1fe0", "strokeWidth": 1.5, "opacity": 1}, "encoding": {"x": {"datum": 0, "axis": null}, "y": {"datum": 2.86, "axis": null}}},
   {"data": {"name": "one"}, "mark": {"type": "point", "shape": "M-1,0.56L0,-0.56L1,0.56Z", "size": 529, "filled": false, "stroke": "#6b6b6b", "strokeWidth": 2, "opacity": 1, "yOffset": -6.5}, "encoding": {"x": {"datum": 20, "axis": null}, "y": {"datum": -60, "axis": null}}},
   {"data": {"name": "ch"}, "mark": {"type": "point", "shape": "M-1,-0.46L0.6,-0.46L1,0L0.6,0.46L-1,0.46Z", "size": 784, "filled": true, "opacity": 1, "strokeWidth": 1, "xOffset": -13.5}, "encoding": {"x": {"datum": -10, "axis": null}, "y": {"field": "v", "type": "quantitative", "axis": null}, "fill": {"field": "c", "type": "nominal", "scale": {"domain": ["C1", "C2", "C3", "C4"], "range": ["#0b0bef", "#ffffff", "#ffffff", "#ffffff"]}, "legend": null}, "stroke": {"field": "c", "type": "nominal", "scale": {"domain": ["C1", "C2", "C3", "C4"], "range": ["#0b0bef", "#ff8cff", "#8cc8ff", "#b9b98c"]}, "legend": null}}},
   {"data": {"name": "ch"}, "mark": {"type": "text", "font": "Liberation Sans", "fontSize": 9.5, "xOffset": -18.5, "align": "center", "baseline": "middle"}, "encoding": {"x": {"datum": -10, "axis": null}, "y": {"field": "v", "type": "quantitative", "axis": null}, "text": {"field": "c"}, "color": {"field": "c", "type": "nominal", "scale": {"domain": ["C1", "C2", "C3", "C4"], "range": ["#ffffff", "#ff80ff", "#80bcf5", "#a6a676"]}, "legend": null}}}
  ]},
 {"width": 507, "height": 450, "title": "(d) Generation signals steering at 95 degrees.", "resolve": {"axis": {"x": "independent", "y": "independent"}},
  "layer": [
   {"data": {"name": "d4"}, "mark": {"type": "line", "color": "#6e6e14", "strokeWidth": 1.2, "interpolate": "monotone", "clip": true}, "encoding": {"x": {"field": "t", "type": "quantitative", "scale": {"domain": [-10, 24.5], "nice": false, "zero": false}, "axis": {"title": null, "values": [-5, 0, 5, 10, 15, 20]}}, "y": {"field": "v", "type": "quantitative", "scale": {"domain": [-60, 30], "nice": false, "zero": false}, "axis": {"title": null, "values": [-60, -50, -40, -30, -20, -10, 0, 10, 20]}}}},
   {"data": {"name": "d3"}, "mark": {"type": "line", "color": "#2f95f0", "strokeWidth": 1.2, "interpolate": "monotone", "clip": true}, "encoding": {"x": {"field": "t", "type": "quantitative", "axis": {"title": null, "orient": "bottom", "offset": -253, "domain": false, "labels": false, "grid": false, "ticks": true, "tickSize": 6, "tickColor": "#a8a8a8", "values": [-9,-8,-7,-6,-5,-4,-3,-2,-1,0,1,2,3,4,5,6,7,8,9,10,11,12,13,14,15,16,17,18,19,20,21,22,23,24]}}, "y": {"field": "v", "type": "quantitative", "axis": {"title": null, "orient": "left", "offset": -444, "domain": false, "labels": false, "grid": false, "ticks": true, "tickSize": 6, "tickColor": "#a8a8a8", "values": [-58,-56,-54,-52,-50,-48,-46,-44,-42,-40,-38,-36,-34,-32,-30,-28,-26,-24,-22,-20,-18,-16,-14,-12,-10,-8,-6,-4,-2,0,2,4,6,8,10,12,14,16,18,20,22,24,26,28]}}}},
   {"data": {"name": "d2"}, "mark": {"type": "line", "color": "#ff33ff", "strokeWidth": 1.2, "interpolate": "monotone", "clip": true}, "encoding": {"x": {"field": "t", "type": "quantitative", "axis": null}, "y": {"field": "v", "type": "quantitative", "axis": null}}},
   {"data": {"name": "c1"}, "mark": {"type": "line", "color": "#1f1fe0", "strokeWidth": 1.4, "interpolate": "monotone", "clip": true}, "encoding": {"x": {"field": "t", "type": "quantitative", "axis": null}, "y": {"field": "v", "type": "quantitative", "axis": null}}},
   {"data": {"name": "one"}, "mark": {"type": "point", "shape": "diamond", "size": 100, "filled": true, "fill": "white", "stroke": "#1f1fe0", "strokeWidth": 1.5, "opacity": 1}, "encoding": {"x": {"datum": 0, "axis": null}, "y": {"datum": 2.86, "axis": null}}},
   {"data": {"name": "one"}, "mark": {"type": "point", "shape": "M-1,0.56L0,-0.56L1,0.56Z", "size": 529, "filled": false, "stroke": "#6b6b6b", "strokeWidth": 2, "opacity": 1, "yOffset": -6.5}, "encoding": {"x": {"datum": 20, "axis": null}, "y": {"datum": -60, "axis": null}}},
   {"data": {"name": "ch"}, "mark": {"type": "point", "shape": "M-1,-0.46L0.6,-0.46L1,0L0.6,0.46L-1,0.46Z", "size": 784, "filled": true, "opacity": 1, "strokeWidth": 1, "xOffset": -13.5}, "encoding": {"x": {"datum": -10, "axis": null}, "y": {"field": "v", "type": "quantitative", "axis": null}, "fill": {"field": "c", "type": "nominal", "scale": {"domain": ["C1", "C2", "C3", "C4"], "range": ["#0b0bef", "#ffffff", "#ffffff", "#ffffff"]}, "legend": null}, "stroke": {"field": "c", "type": "nominal", "scale": {"domain": ["C1", "C2", "C3", "C4"], "range": ["#0b0bef", "#ff8cff", "#8cc8ff", "#b9b98c"]}, "legend": null}}},
   {"data": {"name": "ch"}, "mark": {"type": "text", "font": "Liberation Sans", "fontSize": 9.5, "xOffset": -18.5, "align": "center", "baseline": "middle"}, "encoding": {"x": {"datum": -10, "axis": null}, "y": {"field": "v", "type": "quantitative", "axis": null}, "text": {"field": "c"}, "color": {"field": "c", "type": "nominal", "scale": {"domain": ["C1", "C2", "C3", "C4"], "range": ["#ffffff", "#ff80ff", "#80bcf5", "#a6a676"]}, "legend": null}}}
  ]},
 {"width": 515, "height": 450, "title": "(e) Generation signals steering at 100 degrees.", "resolve": {"axis": {"x": "independent", "y": "independent"}},
  "layer": [
   {"data": {"name": "e4"}, "mark": {"type": "line", "color": "#6e6e14", "strokeWidth": 1.2, "interpolate": "monotone", "clip": true}, "encoding": {"x": {"field": "t", "type": "quantitative", "scale": {"domain": [-10, 25], "nice": false, "zero": false}, "axis": {"title": null, "values": [-5, 0, 5, 10, 15, 20]}}, "y": {"field": "v", "type": "quantitative", "scale": {"domain": [-60, 30], "nice": false, "zero": false}, "axis": {"title": null, "values": [-60, -50, -40, -30, -20, -10, 0, 10, 20]}}}},
   {"data": {"name": "e3"}, "mark": {"type": "line", "color": "#2f95f0", "strokeWidth": 1.2, "interpolate": "monotone", "clip": true}, "encoding": {"x": {"field": "t", "type": "quantitative", "axis": {"title": null, "orient": "bottom", "offset": -253, "domain": false, "labels": false, "grid": false, "ticks": true, "tickSize": 6, "tickColor": "#a8a8a8", "values": [-9,-8,-7,-6,-5,-4,-3,-2,-1,0,1,2,3,4,5,6,7,8,9,10,11,12,13,14,15,16,17,18,19,20,21,22,23,24]}}, "y": {"field": "v", "type": "quantitative", "axis": {"title": null, "orient": "left", "offset": -444, "domain": false, "labels": false, "grid": false, "ticks": true, "tickSize": 6, "tickColor": "#a8a8a8", "values": [-58,-56,-54,-52,-50,-48,-46,-44,-42,-40,-38,-36,-34,-32,-30,-28,-26,-24,-22,-20,-18,-16,-14,-12,-10,-8,-6,-4,-2,0,2,4,6,8,10,12,14,16,18,20,22,24,26,28]}}}},
   {"data": {"name": "e2"}, "mark": {"type": "line", "color": "#ff33ff", "strokeWidth": 1.2, "interpolate": "monotone", "clip": true}, "encoding": {"x": {"field": "t", "type": "quantitative", "axis": null}, "y": {"field": "v", "type": "quantitative", "axis": null}}},
   {"data": {"name": "c1"}, "mark": {"type": "line", "color": "#1f1fe0", "strokeWidth": 1.4, "interpolate": "monotone", "clip": true}, "encoding": {"x": {"field": "t", "type": "quantitative", "axis": null}, "y": {"field": "v", "type": "quantitative", "axis": null}}},
   {"data": {"name": "one"}, "mark": {"type": "point", "shape": "diamond", "size": 100, "filled": true, "fill": "white", "stroke": "#1f1fe0", "strokeWidth": 1.5, "opacity": 1}, "encoding": {"x": {"datum": 0, "axis": null}, "y": {"datum": 2.86, "axis": null}}},
   {"data": {"name": "one"}, "mark": {"type": "point", "shape": "M-1,0.56L0,-0.56L1,0.56Z", "size": 529, "filled": false, "stroke": "#6b6b6b", "strokeWidth": 2, "opacity": 1, "yOffset": -6.5}, "encoding": {"x": {"datum": 20, "axis": null}, "y": {"datum": -60, "axis": null}}},
   {"data": {"name": "ch"}, "mark": {"type": "point", "shape": "M-1,-0.46L0.6,-0.46L1,0L0.6,0.46L-1,0.46Z", "size": 784, "filled": true, "opacity": 1, "strokeWidth": 1, "xOffset": -13.5}, "encoding": {"x": {"datum": -10, "axis": null}, "y": {"field": "v", "type": "quantitative", "axis": null}, "fill": {"field": "c", "type": "nominal", "scale": {"domain": ["C1", "C2", "C3", "C4"], "range": ["#0b0bef", "#ffffff", "#ffffff", "#ffffff"]}, "legend": null}, "stroke": {"field": "c", "type": "nominal", "scale": {"domain": ["C1", "C2", "C3", "C4"], "range": ["#0b0bef", "#ff8cff", "#8cc8ff", "#b9b98c"]}, "legend": null}}},
   {"data": {"name": "ch"}, "mark": {"type": "text", "font": "Liberation Sans", "fontSize": 9.5, "xOffset": -18.5, "align": "center", "baseline": "middle"}, "encoding": {"x": {"datum": -10, "axis": null}, "y": {"field": "v", "type": "quantitative", "axis": null}, "text": {"field": "c"}, "color": {"field": "c", "type": "nominal", "scale": {"domain": ["C1", "C2", "C3", "C4"], "range": ["#ffffff", "#ff80ff", "#80bcf5", "#a6a676"]}, "legend": null}}}
  ]},
 {"width": 507, "height": 450, "title": "(f) Generation signals steering at 180 degrees.", "resolve": {"axis": {"x": "independent", "y": "independent"}},
  "layer": [
   {"data": {"name": "f4"}, "mark": {"type": "line", "color": "#6e6e14", "strokeWidth": 1.2, "interpolate": "monotone", "clip": true}, "encoding": {"x": {"field": "t", "type": "quantitative", "scale": {"domain": [-10, 24.5], "nice": false, "zero": false}, "axis": {"title": null, "values": [-5, 0, 5, 10, 15, 20]}}, "y": {"field": "v", "type": "quantitative", "scale": {"domain": [-60, 30], "nice": false, "zero": false}, "axis": {"title": null, "values": [-60, -50, -40, -30, -20, -10, 0, 10, 20]}}}},
   {"data": {"name": "f3"}, "mark": {"type": "line", "color": "#2f95f0", "strokeWidth": 1.2, "interpolate": "monotone", "clip": true}, "encoding": {"x": {"field": "t", "type": "quantitative", "axis": {"title": null, "orient": "bottom", "offset": -253, "domain": false, "labels": false, "grid": false, "ticks": true, "tickSize": 6, "tickColor": "#a8a8a8", "values": [-9,-8,-7,-6,-5,-4,-3,-2,-1,0,1,2,3,4,5,6,7,8,9,10,11,12,13,14,15,16,17,18,19,20,21,22,23,24]}}, "y": {"field": "v", "type": "quantitative", "axis": {"title": null, "orient": "left", "offset": -444, "domain": false, "labels": false, "grid": false, "ticks": true, "tickSize": 6, "tickColor": "#a8a8a8", "values": [-58,-56,-54,-52,-50,-48,-46,-44,-42,-40,-38,-36,-34,-32,-30,-28,-26,-24,-22,-20,-18,-16,-14,-12,-10,-8,-6,-4,-2,0,2,4,6,8,10,12,14,16,18,20,22,24,26,28]}}}},
   {"data": {"name": "f2"}, "mark": {"type": "line", "color": "#ff33ff", "strokeWidth": 1.2, "interpolate": "monotone", "clip": true}, "encoding": {"x": {"field": "t", "type": "quantitative", "axis": null}, "y": {"field": "v", "type": "quantitative", "axis": null}}},
   {"data": {"name": "c1"}, "mark": {"type": "line", "color": "#1f1fe0", "strokeWidth": 1.4, "interpolate": "monotone", "clip": true}, "encoding": {"x": {"field": "t", "type": "quantitative", "axis": null}, "y": {"field": "v", "type": "quantitative", "axis": null}}},
   {"data": {"name": "one"}, "mark": {"type": "point", "shape": "diamond", "size": 100, "filled": true, "fill": "white", "stroke": "#1f1fe0", "strokeWidth": 1.5, "opacity": 1}, "encoding": {"x": {"datum": 0, "axis": null}, "y": {"datum": 2.86, "axis": null}}},
   {"data": {"name": "one"}, "mark": {"type": "point", "shape": "M-1,0.56L0,-0.56L1,0.56Z", "size": 529, "filled": false, "stroke": "#6b6b6b", "strokeWidth": 2, "opacity": 1, "yOffset": -6.5}, "encoding": {"x": {"datum": 20, "axis": null}, "y": {"datum": -60, "axis": null}}},
   {"data": {"name": "ch"}, "mark": {"type": "point", "shape": "M-1,-0.46L0.6,-0.46L1,0L0.6,0.46L-1,0.46Z", "size": 784, "filled": true, "opacity": 1, "strokeWidth": 1, "xOffset": -13.5}, "encoding": {"x": {"datum": -10, "axis": null}, "y": {"field": "v", "type": "quantitative", "axis": null}, "fill": {"field": "c", "type": "nominal", "scale": {"domain": ["C1", "C2", "C3", "C4"], "range": ["#0b0bef", "#ffffff", "#ffffff", "#ffffff"]}, "legend": null}, "stroke": {"field": "c", "type": "nominal", "scale": {"domain": ["C1", "C2", "C3", "C4"], "range": ["#0b0bef", "#ff8cff", "#8cc8ff", "#b9b98c"]}, "legend": null}}},
   {"data": {"name": "ch"}, "mark": {"type": "text", "font": "Liberation Sans", "fontSize": 9.5, "xOffset": -18.5, "align": "center", "baseline": "middle"}, "encoding": {"x": {"datum": -10, "axis": null}, "y": {"field": "v", "type": "quantitative", "axis": null}, "text": {"field": "c"}, "color": {"field": "c", "type": "nominal", "scale": {"domain": ["C1", "C2", "C3", "C4"], "range": ["#ffffff", "#ff80ff", "#80bcf5", "#a6a676"]}, "legend": null}}}
  ]}
]
}
